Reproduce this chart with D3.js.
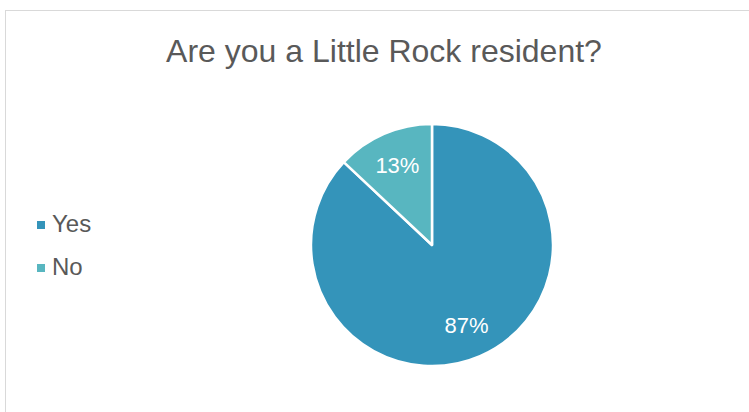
<!DOCTYPE html>
<html><head><meta charset="utf-8">
<script src="https://cdn.jsdelivr.net/npm/d3@7"></script>
<style>html,body{margin:0;padding:0;background:#fff;}svg{display:block;}</style>
</head><body>
<script>
const categories = ["Yes", "No"];
const values = [87, 13];
const colors = ["#3494BA", "#58B6C0"];
const title = "Are you a Little Rock resident?";

const W = 749, H = 412;
const svg = d3.select("body").append("svg").attr("width", W).attr("height", H);
const font = "'Liberation Sans', Arial, sans-serif";

svg.append("rect").attr("x", 5.5).attr("y", 10.5).attr("width", W + 10).attr("height", H + 10)
  .attr("fill", "#fff").attr("stroke", "#d9d9d9").attr("stroke-width", 1);

svg.append("text").attr("x", 384).attr("y", 62).attr("text-anchor", "middle")
  .attr("font-family", font).attr("font-size", 32).attr("fill", "#595959").text(title);

const cx = 432, cy = 245, r = 121;
const total = d3.sum(values);
const pie = d3.pie().sort(null).value(d => d)(values);
const arc = d3.arc().innerRadius(0).outerRadius(r);
const g = svg.append("g").attr("transform", `translate(${cx},${cy})`);
g.selectAll("path").data(pie).join("path")
  .attr("d", arc).attr("fill", (d, i) => colors[i])
  .attr("stroke", "#fff").attr("stroke-width", 2.5).attr("stroke-linejoin", "round");

const labelArc = d3.arc().innerRadius(r * 0.72).outerRadius(r * 0.72);
g.selectAll("text").data(pie).join("text")
  .attr("transform", d => `translate(${labelArc.centroid(d)})`)
  .attr("text-anchor", "middle").attr("dy", "0.35em")
  .attr("font-family", font).attr("font-size", 22).attr("fill", "#fff")
  .text(d => Math.round(d.data / total * 100) + "%");

const leg = svg.append("g").attr("transform", "translate(37,232)");
categories.forEach((c, i) => {
  const y = i * 43;
  leg.append("rect").attr("x", 0).attr("y", y - 11).attr("width", 8).attr("height", 8).attr("fill", colors[i]);
  leg.append("text").attr("x", 15).attr("y", y).attr("font-family", font).attr("font-size", 24)
    .attr("fill", "#595959").text(c);
});
</script>
</body></html>
